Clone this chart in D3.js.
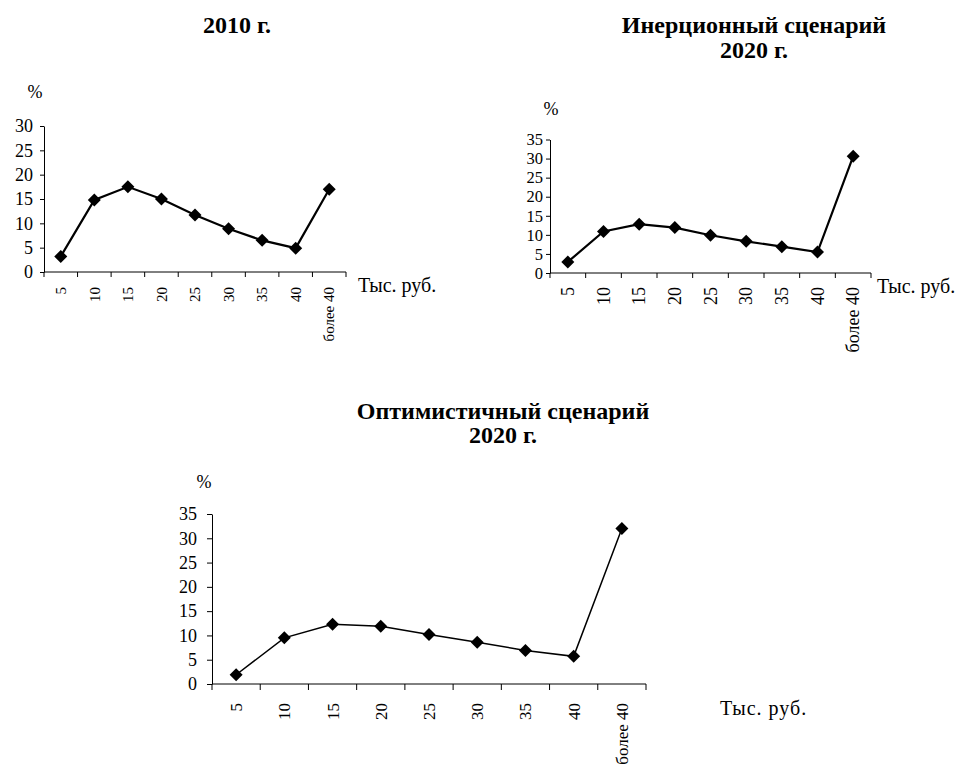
<!DOCTYPE html>
<html>
<head>
<meta charset="utf-8">
<script src="https://cdn.jsdelivr.net/npm/d3@7"></script>
<style>
  html, body { margin: 0; padding: 0; background: #fff; }
  svg { display: block; }
  text { font-family: "Liberation Serif", "Times New Roman", serif; fill: #000; }
</style>
</head>
<body>
<svg id="chart" width="962" height="773"></svg>
<script>
// Income brackets, thousand roubles per month
const categories = ["5", "10", "15", "20", "25", "30", "35", "40", "более 40"];

// Share of population in each bracket, %
const values2010 = [3.2, 14.8, 17.5, 15.0, 11.7, 8.9, 6.5, 4.9, 17.0];
const valuesInertial2020 = [2.9, 10.9, 12.8, 11.9, 9.9, 8.3, 6.9, 5.5, 30.6];
const valuesOptimistic2020 = [1.9, 9.5, 12.3, 11.9, 10.2, 8.6, 6.9, 5.7, 32.0];

const yTicks2010 = [0, 5, 10, 15, 20, 25, 30];
const yTicks2020 = [0, 5, 10, 15, 20, 25, 30, 35];

const titles2010 = ["2010 г."];
const titlesInertial = ["Инерционный сценарий", "2020 г."];
const titlesOptimistic = ["Оптимистичный сценарий", "2020 г."];

const unitLabel = "Тыс. руб.";
const percentLabel = "%";

const FONT = "Liberation Serif, Times New Roman, serif";
const svg = d3.select("#chart");

function drawPanel(cfg) {
  const g = svg.append("g");

  const x = d3.scaleBand().domain(categories).range([cfg.x0, cfg.x1]).padding(0);
  const y = d3.scaleLinear().domain([0, cfg.yMax]).range([cfg.yBottom, cfg.yTop]);
  const bw = x.bandwidth();

  // Titles
  cfg.titles.forEach((t, i) => {
    g.append("text")
      .attr("x", cfg.titleX)
      .attr("y", cfg.titleY + i * cfg.titleStep)
      .attr("text-anchor", "middle")
      .attr("font-family", FONT)
      .attr("font-weight", "bold")
      .attr("font-size", cfg.titleSize)
      .text(t);
  });

  // "%" label above the value axis
  g.append("text")
    .attr("x", cfg.pctX)
    .attr("y", cfg.pctY)
    .attr("text-anchor", "middle")
    .attr("font-family", FONT)
    .attr("font-size", cfg.pctSize)
    .text(percentLabel);

  // Value axis
  const yAxis = d3.axisLeft(y)
    .tickValues(cfg.yTicks)
    .tickSize(cfg.yTickLen)
    .tickSizeOuter(0)
    .tickPadding(cfg.yPad)
    .tickFormat(d3.format("d"));
  const ya = g.append("g").attr("transform", `translate(${cfg.x0},0)`).call(yAxis);
  ya.attr("font-family", FONT);
  ya.selectAll("path, line").attr("stroke", "#000").attr("stroke-width", 1);
  ya.selectAll("text")
    .attr("font-family", FONT)
    .attr("font-size", cfg.yFont)
    .attr("fill", "#000");

  // Category axis: baseline with ticks at band edges
  g.append("line")
    .attr("x1", cfg.x0).attr("x2", cfg.x1)
    .attr("y1", y(0)).attr("y2", y(0))
    .attr("stroke", "#000").attr("stroke-width", 1);
  const edges = categories.map(c => x(c)).concat([x(categories[categories.length - 1]) + bw]);
  g.selectAll(".xtick").data(edges).join("line")
    .attr("x1", d => d).attr("x2", d => d)
    .attr("y1", y(0)).attr("y2", y(0) + cfg.xTickLen)
    .attr("stroke", "#000").attr("stroke-width", 1);

  // Rotated category labels
  g.selectAll(".xlab").data(categories).join("text")
    .attr("transform", d => `translate(${x(d) + bw / 2},${y(0) + cfg.xLabOffset}) rotate(-90)`)
    .attr("text-anchor", "end")
    .attr("dy", "0.35em")
    .attr("font-family", FONT)
    .attr("font-size", cfg.xFont)
    .text(d => d);

  // Unit label at the end of the category axis
  g.append("text")
    .attr("x", cfg.unitX)
    .attr("y", cfg.unitY)
    .attr("font-family", FONT)
    .attr("font-size", cfg.unitSize)
    .attr("letter-spacing", cfg.unitSpacing || 0)
    .text(unitLabel);

  // Line and diamond markers
  const line = d3.line()
    .x((d, i) => x(categories[i]) + bw / 2)
    .y(d => y(d));
  g.append("path")
    .datum(cfg.values)
    .attr("d", line)
    .attr("fill", "none")
    .attr("stroke", "#000")
    .attr("stroke-width", cfg.lineWidth);

  const r = cfg.markerR;
  g.selectAll(".mk").data(cfg.values).join("path")
    .attr("transform", (d, i) => `translate(${x(categories[i]) + bw / 2},${y(d)})`)
    .attr("d", `M0,${-r}L${r},0L0,${r}L${-r},0Z`)
    .attr("fill", "#000");
}

drawPanel({
  values: values2010, yMax: 30, yTicks: yTicks2010,
  x0: 44, x1: 346, yBottom: 272, yTop: 126,
  titles: titles2010, titleX: 237, titleY: 33, titleStep: 24, titleSize: 24,
  pctX: 35, pctY: 98, pctSize: 18,
  yTickLen: 4, yPad: 7, yFont: 18,
  xTickLen: 5, xLabOffset: 15, xFont: 15,
  unitX: 358, unitY: 292, unitSize: 20,
  lineWidth: 2.2, markerR: 6.5
});

drawPanel({
  values: valuesInertial2020, yMax: 35, yTicks: yTicks2020,
  x0: 550, x1: 871, yBottom: 273, yTop: 139.5,
  titles: titlesInertial, titleX: 754, titleY: 33, titleStep: 25, titleSize: 24,
  pctX: 551, pctY: 115, pctSize: 18,
  yTickLen: 4, yPad: 3, yFont: 16.5,
  xTickLen: 5, xLabOffset: 14, xFont: 18,
  unitX: 877, unitY: 293, unitSize: 20,
  lineWidth: 2.2, markerR: 6.5
});

drawPanel({
  values: valuesOptimistic2020, yMax: 35, yTicks: yTicks2020,
  x0: 212, x1: 646, yBottom: 684, yTop: 514,
  titles: titlesOptimistic, titleX: 503, titleY: 419, titleStep: 24, titleSize: 24,
  pctX: 204, pctY: 488, pctSize: 18,
  yTickLen: 5, yPad: 10, yFont: 18,
  xTickLen: 6, xLabOffset: 19, xFont: 17,
  unitX: 720, unitY: 715, unitSize: 20, unitSpacing: 1,
  lineWidth: 1.5, markerR: 6.5
});
</script>
</body>
</html>
